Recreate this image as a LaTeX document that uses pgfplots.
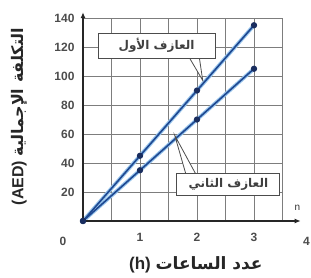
\documentclass[border=0pt]{standalone}
\usepackage{pgfplots}
\pgfplotsset{compat=1.18}
\usetikzlibrary{arrows.meta}
\usepackage{fontspec}
\setmainfont{Liberation Sans}
\newfontfamily\arabicfont[Script=Arabic]{DejaVu Sans}
\TeXXeTstate=1
\definecolor{lineblue}{RGB}{30,72,145}
\definecolor{halo}{RGB}{150,195,235}
\definecolor{gridgray}{RGB}{125,125,125}
\definecolor{markblue}{RGB}{25,45,95}
\begin{document}
\begin{tikzpicture}
\path[use as bounding box] (-83pt,-57pt) rectangle (228pt,221pt);
\begin{axis}[
  at={(0pt,0pt)}, anchor=origin,
  x=57pt, y=1.45pt,
  xmin=0, xmax=3.5, ymin=0, ymax=140,
  axis line style={draw=none},
  xtick={1,2,3}, ytick={20,40,...,140},
  minor xtick={0.5,1.5,2.5,3.5},
  grid=both,
  major grid style={gridgray, line width=0.9pt},
  minor grid style={gridgray, line width=0.9pt},
  major tick length=0pt, minor tick length=0pt,
  tick label style={font=\fontsize{12}{12}\selectfont\bfseries, text=black!70},
  /pgf/number format/assume math mode=true,
  clip=false,
  xticklabel style={yshift=-9pt},
  yticklabel style={xshift=-5pt},
]
\addplot[halo, line width=3.8pt] coordinates {(0,0) (1,45) (2,90) (3,135)};
\addplot[halo, line width=3.8pt] coordinates {(0,0) (1,35) (2,70) (3,105)};
\addplot[lineblue, line width=1.6pt, mark=*, mark size=2.3pt, mark options={fill=markblue, draw=markblue}] coordinates {(0,0) (1,45) (2,90) (3,135)};
\addplot[lineblue, line width=1.6pt, mark=*, mark size=2.3pt, mark options={fill=markblue, draw=markblue}] coordinates {(0,0) (1,35) (2,70) (3,105)};
% axes with arrows
\draw[line width=1.7pt, black!85, -{Latex[length=6pt,width=5pt]}] (axis cs:0,0) -- (axis cs:3.82,0);
\draw[line width=1.7pt, black!85, -{Latex[length=6pt,width=5pt]}] (axis cs:0,0) -- (axis cs:0,144);
\node[font=\fontsize{10}{10}\selectfont, text=black!80] at (axis cs:3.76,9) {n};
\node[font=\fontsize{12}{12}\selectfont\bfseries, text=black!70] at (axis cs:-0.35,-14) {0};
\node[font=\fontsize{12}{12}\selectfont\bfseries, text=black!70] at (axis cs:3.92,-14) {4};
% callout 1
\draw[gray!60!black, line width=0.8pt, fill=white] (axis cs:1.86,113) -- (axis cs:2.1,97) -- (axis cs:2.04,113);
\node[draw=gray!60!black, line width=0.8pt, fill=white, minimum width=117pt, minimum height=25pt, inner sep=1pt,
  font=\arabicfont\bfseries\fontsize{12}{12}\selectfont, text=black!75] at (axis cs:1.29,121) {\beginR العازف الأول\endR};
% callout 2
\draw[gray!60!black, line width=0.8pt, fill=white] (axis cs:1.8,33) -- (axis cs:1.61,59) -- (axis cs:1.97,33);
\node[draw=gray!60!black, line width=0.8pt, fill=white, minimum width=103pt, minimum height=22pt, inner sep=1pt,
  font=\arabicfont\bfseries\fontsize{12}{12}\selectfont, text=black!75] at (axis cs:2.55,25.5) {\beginR العازف الثاني\endR};
% axis labels
\node[font=\fontsize{17}{17}\selectfont\bfseries, text=black!85] at (axis cs:1.98,-30) {(h) {\arabicfont\beginR عدد الساعات\endR}};
\node[rotate=90, font=\fontsize{16}{16}\selectfont\bfseries, text=black!85] at (axis cs:-1.12,72) {(AED) {\arabicfont\beginR التكلفة الإجمالية\endR}};
\end{axis}
\end{tikzpicture}
\end{document}
